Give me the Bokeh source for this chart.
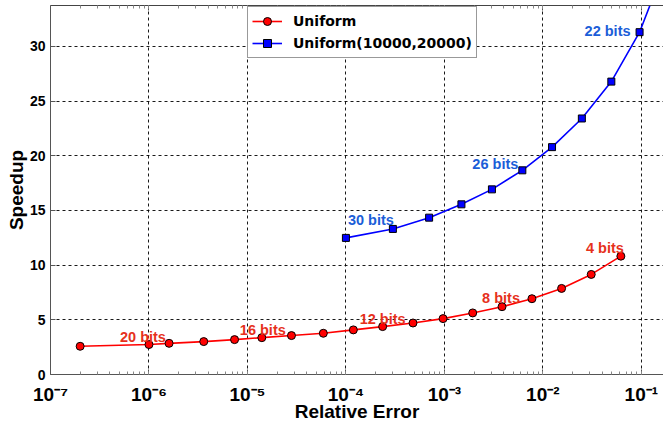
from bokeh.plotting import figure
from bokeh.models import (Range1d, LogAxis, LogTicker, FixedTicker, CustomJSTickFormatter,
                          Legend, LegendItem, ColumnDataSource)
from bokeh.core.properties import value
from bokeh.embed import file_html
from bokeh.resources import INLINE

# ---------------- data ----------------
uniform_err = [2.0e-7, 1.0e-6, 1.6e-6, 3.6e-6, 7.4e-6, 1.4e-5, 2.8e-5, 5.9e-5,
               1.19e-4, 2.36e-4, 4.8e-4, 9.7e-4, 1.94e-3, 3.85e-3, 7.75e-3,
               1.55e-2, 3.1e-2, 6.2e-2]
uniform_speedup = [2.58, 2.74, 2.85, 3.01, 3.19, 3.37, 3.56, 3.77,
                   4.08, 4.38, 4.71, 5.11, 5.63, 6.20, 6.93,
                   7.87, 9.15, 10.82]

range_err = [1.0e-4, 3.0e-4, 7.0e-4, 1.49e-3, 3.04e-3, 6.19e-3,
             1.24e-2, 2.49e-2, 4.96e-2, 9.6e-2, 0.19]
range_speedup = [12.49, 13.31, 14.34, 15.56, 16.93, 18.67,
                 20.79, 23.41, 26.78, 31.30, 38.2]

# bit annotations: text and index of the point they belong to
uniform_bits = ["20 bits", "16 bits", "12 bits", "8 bits", "4 bits"]
uniform_bits_idx = [1, 5, 9, 13, 17]
range_bits = ["30 bits", "26 bits", "22 bits"]
range_bits_idx = [0, 5, 9]

y_ticks = [0, 5, 10, 15, 20, 25, 30]
series_names = ["Uniform", "Uniform(10000,20000)"]
x_title = "Relative Error"
y_title = "Speedup"

# ---------------- styles ----------------
RED_TXT = "#e6311c"
BLUE_TXT = "#1b5ed8"
FONT = "Liberation Sans"

p = figure(width=663, height=424, x_axis_type="log",
           x_range=Range1d(1e-7, 0.168), y_range=Range1d(0, 33.74),
           output_backend="svg", toolbar_location=None,
           min_border_left=50, min_border_right=0, min_border_top=5,
           min_border_bottom=49)
p.outline_line_color = None
p.background_fill_color = "white"

# grids
for g in (p.xgrid, p.ygrid):
    g.grid_line_color = "black"
    g.grid_line_dash = "3 3"
    g.grid_line_width = 1
    g.grid_line_alpha = 0.9

# y axis
p.yaxis.ticker = FixedTicker(ticks=y_ticks)
p.yaxis.axis_label = y_title
p.yaxis.axis_label_text_font = FONT
p.yaxis.axis_label_text_font_style = "bold"
p.yaxis.axis_label_text_font_size = "19px"
p.yaxis.axis_label_text_color = "black"
p.yaxis.axis_label_standoff = 0
p.yaxis.major_label_text_font = FONT
p.yaxis.major_label_text_font_style = "bold"
p.yaxis.major_label_text_font_size = "14px"
p.yaxis.major_label_text_color = "black"
p.yaxis.major_label_standoff = 5
p.yaxis.major_tick_in = 5
p.yaxis.major_tick_out = 0
p.yaxis.minor_tick_in = 0
p.yaxis.minor_tick_out = 0
p.yaxis.axis_line_color = "#555555"
p.yaxis.major_tick_line_color = "#555555"

# x axis
fmt = CustomJSTickFormatter(code="""
const sup = {'-':'\u207b','0':'\u2070','1':'\u00b9','2':'\u00b2','3':'\u00b3','4':'\u2074',
             '5':'\u2075','6':'\u2076','7':'\u2077','8':'\u2078','9':'\u2079'};
const e = Math.round(Math.log10(tick));
return '10' + String(e).split('').map(c => sup[c]).join('');
""")
p.xaxis.ticker = LogTicker(num_minor_ticks=10)
p.xaxis.formatter = fmt
p.xaxis.axis_label = x_title
p.xaxis.axis_label_text_font = FONT
p.xaxis.axis_label_text_font_style = "bold"
p.xaxis.axis_label_text_font_size = "19px"
p.xaxis.axis_label_text_color = "black"
p.xaxis.axis_label_standoff = -7
p.xaxis.major_label_text_font = FONT
p.xaxis.major_label_text_font_style = "bold"
p.xaxis.major_label_text_font_size = "19px"
p.xaxis.major_label_text_color = "black"
p.xaxis.major_label_standoff = 9
p.xaxis.major_tick_in = 5
p.xaxis.major_tick_out = 0
p.xaxis.minor_tick_in = 3
p.xaxis.minor_tick_out = 0
p.xaxis.axis_line_color = "#555555"
p.xaxis.major_tick_line_color = "#555555"
p.xaxis.minor_tick_line_color = "#888888"

# top mirror axis (no labels)
top = LogAxis(ticker=LogTicker(num_minor_ticks=10),
              formatter=CustomJSTickFormatter(code="return ' ';"))
top.major_label_text_font_size = "1px"
top.major_label_standoff = 0
top.major_tick_in = 5
top.major_tick_out = 0
top.minor_tick_in = 3
top.minor_tick_out = 0
top.axis_line_color = "#444444"
top.major_tick_line_color = "#555555"
top.minor_tick_line_color = "#888888"
p.add_layout(top, "above")

# series
r_line = p.line(uniform_err, uniform_speedup, line_color="#ff0000", line_width=1.6)
r_pts = p.scatter(uniform_err, uniform_speedup, marker="circle", size=8,
                  fill_color="#ff0000", line_color="black", line_width=1)
b_line = p.line(range_err, range_speedup, line_color="#0000ff", line_width=1.6)
b_pts = p.scatter(range_err, range_speedup, marker="square", size=7,
                  fill_color="#0000ff", line_color="black", line_width=1)

# annotations
u_src = ColumnDataSource(dict(
    x=[uniform_err[i] for i in uniform_bits_idx],
    y=[uniform_speedup[i] for i in uniform_bits_idx],
    t=uniform_bits,
    dx=[-6, 1, 0, -1, -16],
    dy=[-8, -8, -8, -9, -8]))
p.text(x="x", y="y", text="t", x_offset="dx", y_offset="dy", source=u_src,
       text_align="center", text_baseline="middle", text_color=RED_TXT,
       text_font=value(FONT), text_font_style="bold", text_font_size="14.5px")
b_src = ColumnDataSource(dict(
    x=[range_err[i] for i in range_bits_idx],
    y=[range_speedup[i] for i in range_bits_idx],
    t=range_bits,
    dx=[25, -27, -32],
    dy=[-18, -6, -1]))
p.text(x="x", y="y", text="t", x_offset="dx", y_offset="dy", source=b_src,
       text_align="center", text_baseline="middle", text_color=BLUE_TXT,
       text_font=value(FONT), text_font_style="bold", text_font_size="14.5px")

# legend
legend = Legend(items=[LegendItem(label=series_names[0], renderers=[r_line, r_pts]),
                       LegendItem(label=series_names[1], renderers=[b_line, b_pts])],
                location=(197, 316))
legend.label_text_font = "DejaVu Sans"
legend.label_text_font_style = "bold"
legend.label_text_font_size = "14px"
legend.label_text_color = "black"
legend.border_line_color = "#333333"
legend.border_line_width = 1
legend.background_fill_alpha = 1
legend.padding = 4
legend.spacing = 2
legend.margin = 0
legend.glyph_width = 30
legend.glyph_height = 20
legend.label_height = 20
legend.label_standoff = 11
p.add_layout(legend, "center")

open("out.html", "w").write(file_html(p, INLINE))
